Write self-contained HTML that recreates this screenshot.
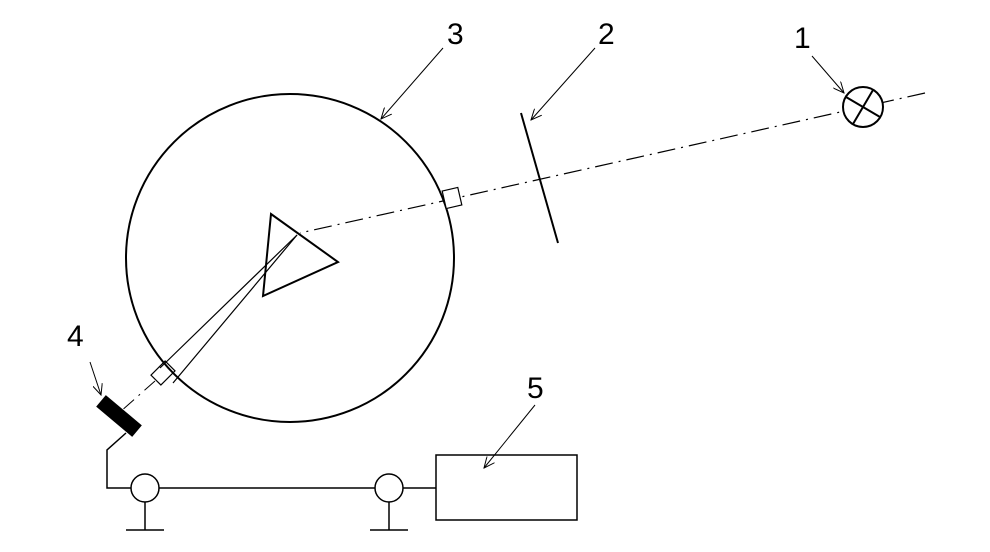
<!DOCTYPE html>
<html><head><meta charset="utf-8"><style>
html,body{margin:0;padding:0;background:#fff;}
svg{display:block;}
text{font-family:"Liberation Sans",sans-serif;font-size:30px;fill:#000;}
</style></head><body>
<svg width="990" height="552" viewBox="0 0 990 552">
<defs>
<marker id="ah" markerWidth="12" markerHeight="10" refX="11" refY="5" orient="auto" markerUnits="userSpaceOnUse">
<path d="M0,0 L11,5 L0,10" fill="none" stroke="#000" stroke-width="1"/>
</marker>
</defs>
<g stroke="#000" fill="none">
<!-- optical axis -->
<line x1="925" y1="93" x2="300" y2="233" stroke-width="1.2" stroke-dasharray="18,6,2,6"/>
<!-- lamp -->
<g stroke-width="2">
<circle cx="863" cy="107" r="20" fill="#fff"/>
<line x1="846" y1="97" x2="880" y2="117"/>
<line x1="873" y1="90" x2="853" y2="124"/>
</g>
<!-- grating -->
<line x1="521" y1="113" x2="558" y2="243" stroke-width="2"/>
<!-- big circle -->
<circle cx="290" cy="258" r="164" stroke-width="2"/>
<!-- entrance box -->
<rect x="444" y="189" width="16" height="18" transform="rotate(-13 452 198)" stroke-width="1.2" fill="#fff"/>
<!-- prism -->
<polygon points="271,214 338,262 263,296" stroke-width="2"/>
<!-- rays -->
<line x1="297" y1="235" x2="160" y2="368" stroke-width="1.2"/>
<line x1="297" y1="235" x2="173" y2="383" stroke-width="1.2"/>
<!-- exit box -->
<rect x="153" y="366" width="20" height="14" transform="rotate(-45 163 373)" stroke-width="1.2" fill="none"/>
<line x1="155" y1="381" x2="120" y2="412" stroke-width="1" stroke-dasharray="14,6,2,6"/>
<!-- detector -->
<rect x="96" y="409" width="46" height="14" transform="rotate(40 119 416)" fill="#000" stroke="#000"/>
<!-- wiring -->
<polyline points="126,433 107,450 107,488 436,488" stroke-width="1.5"/>
<circle cx="145" cy="488" r="14" stroke-width="1.5" fill="#fff"/>
<circle cx="389" cy="488" r="14" stroke-width="1.5" fill="#fff"/>
<g stroke-width="1.5"><line x1="145" y1="502" x2="145" y2="530"/><line x1="126" y1="530" x2="164" y2="530"/></g>
<g stroke-width="1.5"><line x1="389" y1="502" x2="389" y2="530"/><line x1="370" y1="530" x2="408" y2="530"/></g>
<rect x="436" y="455" width="141" height="65" stroke-width="1.5"/>
<!-- leader arrows -->
<g stroke-width="1" marker-end="url(#ah)">
<line x1="812" y1="56" x2="844" y2="93"/>
<line x1="595" y1="48" x2="531" y2="120"/>
<line x1="443" y1="48" x2="381" y2="119"/>
<line x1="90" y1="362" x2="101" y2="395"/>
<line x1="535" y1="405" x2="484" y2="468"/>
</g>
</g>
<text x="794" y="48">1</text>
<text x="598" y="44">2</text>
<text x="447" y="44">3</text>
<text x="67" y="346">4</text>
<text x="527" y="398">5</text>
</svg>
</body></html>
